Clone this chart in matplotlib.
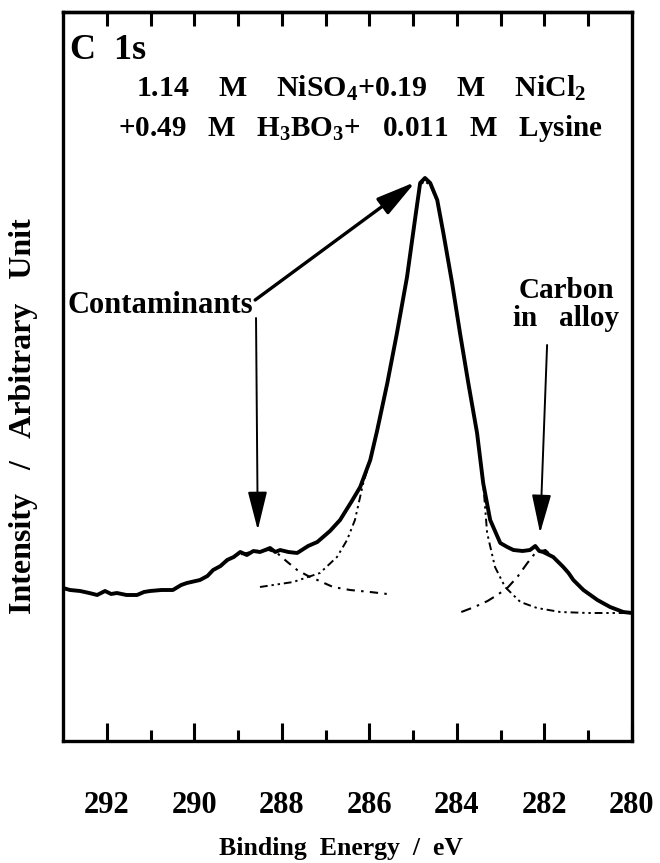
import numpy as np
import matplotlib
matplotlib.use("Agg")
import matplotlib.pyplot as plt

plt.rcParams['font.family'] = ['Liberation Serif', 'DejaVu Serif']
plt.rcParams['font.weight'] = 'bold'
plt.rcParams['mathtext.fontset'] = 'custom'
plt.rcParams['mathtext.rm'] = 'Liberation Serif:bold'
plt.rcParams['mathtext.bf'] = 'Liberation Serif:bold'
plt.rcParams['mathtext.default'] = 'rm'

# measured spectrum (binding energy / eV, intensity / arb.)
be_meas = [293.00, 292.84, 292.61, 292.40, 292.22, 292.04, 291.90, 291.77, 291.55, 291.31,
           291.15, 291.01, 290.75, 290.49, 290.30, 290.17, 289.87, 289.70, 289.57, 289.40,
           289.25, 289.10, 288.95, 288.80, 288.65, 288.50, 288.38, 288.27, 288.15, 288.04,
           287.85, 287.65, 287.40, 287.19, 286.90, 286.67, 286.40, 286.21, 285.98, 285.82,
           285.59, 285.37, 285.14, 284.95, 284.84, 284.73, 284.61, 284.45, 284.31, 284.11,
           283.93, 283.74, 283.54, 283.40, 283.24, 283.01, 282.85, 282.71, 282.50, 282.33,
           282.21, 282.12, 282.03, 281.80, 281.57, 281.45, 281.34, 281.11, 280.95, 280.79,
           280.50, 280.20, 280.00]
i_meas = [153, 151, 150, 148, 146, 150, 147, 148, 146, 146,
          149, 150, 151, 151, 156, 158, 161, 165, 171, 175,
          181, 184, 189, 186, 190, 189, 191, 193, 189, 191,
          189, 188, 195, 199, 210, 221, 240, 254, 281, 311,
          358, 408, 464, 524, 558, 563, 558, 541, 508, 458,
          408, 358, 308, 258, 221, 198, 194, 191, 190, 191,
          195, 190, 189, 184, 174, 168, 161, 151, 146, 141,
          134, 129, 128]

# fitted component: main C-C peak
be_cc = [288.50, 287.74, 287.13, 286.74, 286.51, 286.33, 286.14, 285.98, 285.59, 285.37,
         285.14, 284.95, 284.84, 284.75, 284.61, 284.45, 284.31, 284.11, 283.93, 283.74,
         283.54, 283.40, 283.31, 283.13, 282.90, 282.55, 282.17, 281.64, 281.00, 280.00]
i_cc = [154, 159, 168, 184, 201, 221, 258, 281, 358, 408,
        464, 524, 555, 560, 556, 540, 508, 458, 408, 358,
        308, 258, 208, 174, 154, 139, 133, 129, 128, 128]

# fitted component: contaminants
be_cont = [289.40, 289.00, 288.60, 288.30, 288.11, 287.90, 287.65, 287.40, 287.19, 286.83,
           286.44, 285.98, 285.59]
i_cont = [176, 186, 190, 191, 188, 180, 171, 165, 161, 154,
          151, 149, 147]

# fitted component: carbon in alloy
be_alloy = [283.90, 283.60, 283.30, 283.08, 282.85, 282.62, 282.39, 282.21, 281.98, 281.80,
            281.57, 281.34, 281.11, 280.79, 280.50, 280.20, 280.00]
i_alloy = [129, 134, 140, 146, 153, 164, 178, 188, 191, 184,
           174, 161, 151, 141, 134, 129, 128]

fig = plt.figure(figsize=(6.6, 8.63), dpi=100)
ax = fig.add_axes([63/660, 1-741/863, (632-63)/660, (741-12)/863])

ax.plot(be_meas, i_meas, color='black', lw=2.8, solid_joinstyle='round')
ax.plot(be_cc, i_cc, color='black', lw=1.4, linestyle=(0, (4, 2, 1.2, 2, 1.2, 2)))
ax.plot(be_cont, i_cont, color='black', lw=1.5, linestyle=(0, (4, 3, 1.2, 3)))
ax.plot(be_alloy, i_alloy, color='black', lw=1.5, linestyle=(0, (5, 3, 1.2, 3)))

ax.set_xlim(293, 280)
ax.set_ylim(0, 729)

ax.set_xticks([292, 290, 288, 286, 284, 282, 280])
ax.set_xticks(np.arange(281, 293, 2), minor=True)
ax.set_yticks([])
ax.tick_params(axis='x', which='major', direction='in', length=13, width=2.2, pad=36,
               labelsize=22, top=False)
ax.tick_params(axis='x', which='minor', direction='in', length=8, width=2.2, top=False)
for lab in ax.get_xticklabels():
    lab.set_fontweight('bold')

top = ax.secondary_xaxis('top')
top.set_xticks(np.arange(281, 293, 1))
top.tick_params(axis='x', direction='in', length=10, width=2.2, labeltop=False)
top.spines['top'].set_linewidth(2.4)

for s in ax.spines.values():
    s.set_linewidth(2.4)

fig.text(341/660, 1-848/863, 'Binding  Energy  /  eV', ha='center', va='center',
         fontsize=18.5, fontweight='bold')
fig.text(24/660, 1-416/863, 'Intensity   /   Arbitrary   Unit', ha='center', va='center',
         rotation=90, fontsize=23, fontweight='bold')

ax.text(292.84, 691, 'C  1s', ha='left', va='center', fontsize=26, fontweight='bold')
ax.text(286.2, 653, r'1.14    M    NiSO$_{4}$+0.19    M    NiCl$_{2}$', ha='center', va='center',
        fontsize=21.5, fontweight='bold')
ax.text(286.2, 613, r'+0.49   M   H$_{3}$BO$_{3}$+   0.011   M   Lysine', ha='center', va='center',
        fontsize=21, fontweight='bold')
ax.text(290.78, 436, 'Contaminants', ha='center', va='center', fontsize=22, fontweight='bold')
ax.text(281.5, 451, 'Carbon', ha='center', va='center', fontsize=21, fontweight='bold')
ax.text(281.5, 423, 'in   alloy', ha='center', va='center', fontsize=21, fontweight='bold')

ax.annotate('', xy=(284.95, 559), xytext=(288.61, 441),
            arrowprops=dict(arrowstyle='-|>,head_length=1.2,head_width=0.3', lw=2.4,
                            color='black', shrinkA=0, shrinkB=0, mutation_scale=20))
ax.annotate('', xy=(288.55, 211), xytext=(288.59, 423),
            arrowprops=dict(arrowstyle='-|>,head_length=1.2,head_width=0.3', lw=1.4,
                            color='black', shrinkA=0, shrinkB=0, mutation_scale=20))
ax.annotate('', xy=(282.10, 208), xytext=(281.94, 396),
            arrowprops=dict(arrowstyle='-|>,head_length=1.2,head_width=0.3', lw=1.4,
                            color='black', shrinkA=0, shrinkB=0, mutation_scale=20))

fig.savefig('out.png', dpi=100)
